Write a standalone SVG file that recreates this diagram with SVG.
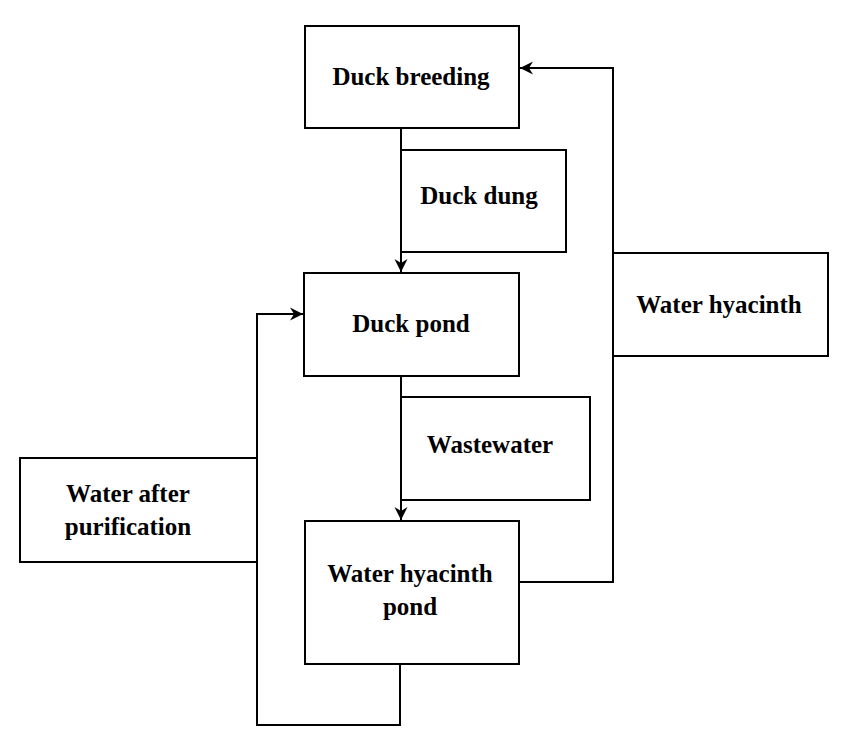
<svg xmlns="http://www.w3.org/2000/svg" width="850" height="754" viewBox="0 0 850 754">
<style>
.box{fill:#fff;stroke:#000;stroke-width:2}
.t{font-family:"Liberation Serif","Times New Roman",serif;font-weight:bold;font-size:25px;fill:#000;text-anchor:middle}
.c{fill:none;stroke:#000;stroke-width:2}
</style>
<defs>
<marker id="ah" markerWidth="20" markerHeight="20" refX="14" refY="8" orient="auto" markerUnits="userSpaceOnUse">
<path d="M14,8 L1,1.5 L5,8 L1,14.5 Z" fill="#000"/>
</marker>
</defs>
<rect width="850" height="754" fill="#fff"/>
<g id="connectors">
<path class="c" d="M401,128 V272" marker-end="url(#ah)"/>
<path class="c" d="M401,376 V520" marker-end="url(#ah)"/>
<path class="c" d="M519,582 H613 V68 H520" marker-end="url(#ah)"/>
<path class="c" d="M400,664 V725 H257 V314 H303" marker-end="url(#ah)"/>
</g>
<g id="duck-breeding">
<rect class="box" x="305" y="26" width="214" height="102"/>
<text class="t" x="411" y="85">Duck breeding</text>
</g>
<g id="duck-dung">
<rect class="box" x="401" y="150" width="165" height="102"/>
<text class="t" x="479" y="204">Duck dung</text>
</g>
<g id="duck-pond">
<rect class="box" x="304" y="273" width="215" height="103"/>
<text class="t" x="411" y="332">Duck pond</text>
</g>
<g id="wastewater">
<rect class="box" x="401" y="397" width="189" height="103"/>
<text class="t" x="490" y="453">Wastewater</text>
</g>
<g id="water-hyacinth-pond">
<rect class="box" x="305" y="521" width="214" height="143"/>
<text class="t" x="410" y="582">Water hyacinth</text>
<text class="t" x="410" y="615">pond</text>
</g>
<g id="water-after-purification">
<rect class="box" x="20" y="458" width="237" height="104"/>
<text class="t" x="128" y="502">Water after</text>
<text class="t" x="128" y="535">purification</text>
</g>
<g id="water-hyacinth">
<rect class="box" x="613" y="253" width="215" height="103"/>
<text class="t" x="719" y="313">Water hyacinth</text>
</g>
</svg>
